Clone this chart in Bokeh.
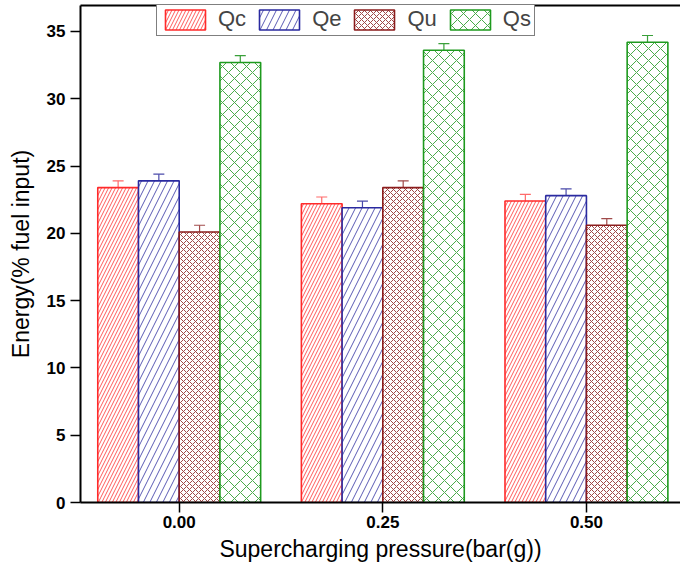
from bokeh.plotting import figure
from bokeh.models import (ColumnDataSource, Whisker, TeeHead, LinearAxis, FixedTicker,
                          Range1d, Legend, LegendItem, NumeralTickFormatter)
from bokeh.embed import file_html
from bokeh.resources import INLINE

# ---- data ----
pressures = [0.00, 0.25, 0.50]
tick_labels = ["0.00", "0.25", "0.50"]
series = ["Qc", "Qe", "Qu", "Qs"]
qc = [23.4, 22.2, 22.4]
qe = [23.9, 21.9, 22.8]
qu = [20.1, 23.4, 20.6]
qs = [32.7, 33.6, 34.2]
qc_err = [0.5, 0.5, 0.5]
qe_err = [0.5, 0.5, 0.5]
qu_err = [0.5, 0.5, 0.5]
qs_err = [0.5, 0.5, 0.5]
y_ticks = [0, 5, 10, 15, 20, 25, 30, 35]

values = {"Qc": qc, "Qe": qe, "Qu": qu, "Qs": qs}
errors = {"Qc": qc_err, "Qe": qe_err, "Qu": qu_err, "Qs": qs_err}

styles = {
    "Qc": dict(line="#ff2a2a", hatch="#ff5a5a", err="#ff6a6a", pattern="/", scale=7, offset=-0.075),
    "Qe": dict(line="#2a2aa0", hatch="#5a5ab4", err="#4a4aaa", pattern="/", scale=13, offset=-0.025),
    "Qu": dict(line="#8b1c1c", hatch="#a04848", err="#a04a4a", pattern="x", scale=6, offset=0.025),
    "Qs": dict(line="#1e9a1e", hatch="#4aaa4a", err="#3aa03a", pattern="x", scale=12, offset=0.075),
}

FONT = "Liberation Sans"
BAR_W = 0.05

p = figure(width=680, height=570,
           x_range=Range1d(-0.1212, 0.6155), y_range=Range1d(0, 36.93),
           output_backend="svg", toolbar_location=None,
           min_border_left=80, min_border_right=0, min_border_top=5, min_border_bottom=68)
p.xgrid.visible = False
p.ygrid.visible = False
p.outline_line_color = None
p.background_fill_color = "white"
p.border_fill_color = "white"

items = []
for s in series:
    st = styles[s]
    xs = [x + st["offset"] for x in pressures]
    top = values[s]
    err = errors[s]
    src = ColumnDataSource(dict(x=xs, top=top,
                                upper=[t + e for t, e in zip(top, err)],
                                lower=[t - e for t, e in zip(top, err)]))
    r = p.vbar(x="x", top="top", width=BAR_W, bottom=0, source=src,
               fill_color="white", line_color=st["line"], line_width=1.6,
               hatch_pattern=st["pattern"], hatch_color=st["hatch"],
               hatch_scale=st["scale"], hatch_weight=1.0)
    w = Whisker(base="x", upper="upper", lower="lower", source=src,
                line_color=st["err"], line_width=1.2,
                upper_head=TeeHead(size=11, line_color=st["err"], line_width=1.2),
                lower_head=TeeHead(size=11, line_color=st["err"], line_width=1.2))
    p.add_layout(w)
    items.append(LegendItem(label=s, renderers=[r]))

# axes
for ax in (p.xaxis[0], p.yaxis[0]):
    ax.axis_line_width = 2
    ax.axis_line_color = "black"
    ax.major_tick_line_width = 1.5
    ax.major_tick_line_color = "black"
    ax.major_tick_out = 10
    ax.major_tick_in = 0
    ax.minor_tick_line_color = None
    ax.major_label_text_font = FONT
    ax.major_label_text_font_style = "bold"
    ax.major_label_text_font_size = "17px"
    ax.major_label_text_color = "black"
    ax.axis_label_text_font = FONT
    ax.axis_label_text_font_style = "normal"
    ax.axis_label_text_font_size = "23px"
    ax.axis_label_text_color = "black"

p.xaxis.ticker = FixedTicker(ticks=pressures)
p.xaxis.formatter = NumeralTickFormatter(format="0.00")
p.xaxis.major_label_overrides = dict(zip(pressures, tick_labels))
p.xaxis.axis_label = "Supercharging pressure(bar(g))"
p.xaxis.major_label_standoff = 3
p.xaxis.axis_label_standoff = 5

p.yaxis.ticker = FixedTicker(ticks=y_ticks)
p.yaxis.axis_label = "Energy(% fuel input)"
p.yaxis.major_label_standoff = 5
p.yaxis.axis_label_standoff = 10

top_axis = LinearAxis(ticker=FixedTicker(ticks=[]), major_tick_out=0, major_tick_in=0,
                      minor_tick_out=0, minor_tick_in=0, major_label_text_font_size="0px",
                      major_label_standoff=0, axis_line_width=2, axis_line_color="black")
p.add_layout(top_axis, "above")

legend = Legend(items=items, orientation="horizontal", location=(76, 466),
                glyph_width=50, glyph_height=25, label_text_font=FONT,
                label_text_font_size="22px", label_standoff=8, spacing=8,
                padding=3, margin=0, border_line_color="black", border_line_width=1,
                background_fill_color="white", background_fill_alpha=1.0)
p.add_layout(legend)

open("out.html", "w").write(file_html(p, INLINE))
